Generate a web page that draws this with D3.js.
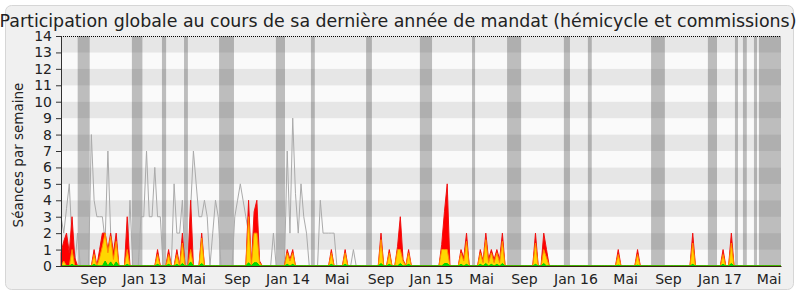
<!DOCTYPE html>
<html>
<head>
<meta charset="utf-8">
<script src="https://cdn.jsdelivr.net/npm/d3@7"></script>
<style>
  body { margin: 0; background: #fff; }
  text { font-family: "DejaVu Sans", sans-serif; }
</style>
</head>
<body>
<div id="chart"></div>
<script>
// weekly data, week 0 = mid June 2012, week 261 = mid June 2017
// [week, value]; weeks not listed are 0
const grayPts = [[0,3],[1,2],[2,3.5],[3,5],[4,1.5],[6,2],[11,8],[12,4],[13,3],[14,3],[15,3],[16,1.5],[17,7],[18,2],[19,0.6],
  [25,4],[29,3],[30,3],[31,7],[32,3],[33,3],[34,6],[35,3],[36,3],[41,5],[42,2],[43,2],[44,4],
  [47,3.5],[48,7],[49,5],[50,3],[51,3],[52,4],[53,3],[55,2],[56,4],[57,3],
  [63,3],[64,4],[65,5],[66,4],[67,3],[68,2],[77,2],[82,7],[83,2],[84,9],[85,4.4],[86,2],[87,5],[88,3],[89,2],
  [94,4],[95,2],[96,2],[97,2],[98,2],[99,2],[106,1]];

const redPts = [[0,0.8],[1,1.5],[2,2],[3,0.8],[4,3],[5,0.5],
  [12,1],[14,1],[15,2],[16,2],[17,1],[18,2],[19,0.8],[20,2],
  [24,3],[35,1],[39,1],[42,1],[44,2],[47,4],[51,2],
  [68,4],[70,3.3],[71,4],[72,0.3],
  [82,1],[83,0.4],[84,1],[98,1],[103,1],
  [116,2],[119,1],[122,1.2],[123,3],[124,0.4],[126,1],
  [138,1.3],[139,3.3],[140,5],
  [145,1],[146,0.5],[147,2],
  [152,1],[153,0.3],[154,2],[155,0.4],[156,1],[157,0.4],[158,1],[159,0.4],[160,2],
  [172,2],[175,2],[176,1],
  [202,1],[209,1],[229,2],[240,1],[243,2]];

const yellowPts = [[1,0.3],[4,1],[12,0.7],[14,0.5],[15,1.2],[16,2],[17,0.8],[18,1.8],[19,0.4],[20,1.5],
  [24,1],[35,0.7],[39,0.7],[42,0.7],[44,1.4],[47,1],[51,1.7],
  [68,3],[70,2],[71,2],[72,0.2],
  [82,0.8],[83,0.3],[84,0.8],[98,0.8],[103,0.8],
  [116,1.6],[119,0.8],[122,1],[123,1],[124,0.3],[126,0.8],
  [138,1],[139,1],[140,1],
  [145,0.8],[146,0.3],[147,1.5],
  [152,0.8],[153,0.2],[154,1.6],[155,0.2],[156,0.8],[157,0.2],[158,0.8],[159,0.2],[160,1.5],
  [172,1.4],[175,1],[176,0.5],
  [202,0.7],[209,0.7],[229,1.4],[240,0.7],[243,1.4]];

const greenPts = [[4,0.1],[12,0.1],[16,0.3],[18,0.25],[20,0.25],[24,0.1],[35,0.1],[39,0.1],[42,0.1],[44,0.15],[47,0.25],[51,0.15],
  [68,0.2],[70,0.2],[71,0.2],[82,0.1],[84,0.1],[98,0.1],[103,0.1],[116,0.15],[119,0.1],[123,0.15],[126,0.1],
  [139,0.15],[140,0.15],[145,0.1],[147,0.1],[152,0.1],[154,0.15],[156,0.1],[158,0.1],[160,0.15],
  [172,0.1],[175,0.15],[202,0.05],[209,0.05],[229,0.1],[240,0.1],[243,0.15]];

// vacation periods (week ranges)
const vacations = [[6.05,10.4],[25.7,29.5],[36.6,38.1],[44.6,46.0],[57.3,62.7],[77.9,81.2],[90.6,92.0],
  [110.6,112.7],[130.1,134.5],[149.0,150.1],[161.7,166.8],[182.3,184.5],[191.0,192.4],[213.9,218.9],
  [234.5,237.8],[244.3,245.4],[247.2,248.6],[251.2,252.3],[253.0,261]];

const tickWeeks = [11.6,30.1,47.9,63.8,82.1,99.9,115.8,134.1,152.3,167.8,186.5,204.5,220.0,238.7,256.5];
const tickLabels = ["Sep","Jan 13","Mai","Sep","Jan 14","Mai","Sep","Jan 15","Mai","Sep","Jan 16","Mai","Sep","Jan 17","Mai"];

const NWEEKS = 262;

function expand(pts) {
  let m = new Map(pts);
  return d3.range(NWEEKS).map(w => ({w: w, v: m.get(w) || 0}));
}

const W = 800, H = 300;
const svg = d3.select("#chart").append("svg")
  .attr("width", W).attr("height", H);

// panel
svg.append("rect")
  .attr("x", 5.5).attr("y", 5.5)
  .attr("width", 788).attr("height", 284)
  .attr("rx", 6)
  .attr("fill", "#f0f0f0")
  .attr("stroke", "#d6d6d6");

const x = d3.scaleLinear().domain([0, NWEEKS - 1]).range([61, 781]);
const y = d3.scaleLinear().domain([0, 14]).range([266, 36]);

// horizontal stripes
d3.range(14).forEach(k => {
  svg.append("rect")
    .attr("x", x(0)).attr("y", y(k + 1))
    .attr("width", x(NWEEKS - 1) - x(0))
    .attr("height", y(k) - y(k + 1))
    .attr("fill", k % 2 ? "#e6e6e6" : "#fafafa");
});

// vacation bands
svg.selectAll(".vac").data(vacations).enter().append("rect")
  .attr("x", d => x(d[0]))
  .attr("y", y(14))
  .attr("width", d => x(d[1]) - x(d[0]))
  .attr("height", y(0) - y(14))
  .attr("fill", "rgb(50,50,50)")
  .attr("fill-opacity", 0.3);

const line = d3.line().x(d => x(d.w)).y(d => y(d.v));
const area = d3.area().x(d => x(d.w)).y0(y(0)).y1(d => y(d.v));

svg.append("path")
  .attr("d", line(expand(grayPts)))
  .attr("fill", "none")
  .attr("stroke", "#aaaaaa")
  .attr("stroke-width", 1);

svg.append("path")
  .attr("d", area(expand(redPts)))
  .attr("fill", "#ff0000")
  .attr("stroke", "#f01010")
  .attr("stroke-width", 1);

svg.append("path")
  .attr("d", area(expand(yellowPts)))
  .attr("fill", "#ffd700")
  .attr("stroke", "#ff8c00")
  .attr("stroke-width", 1);

svg.append("path")
  .attr("d", area(expand(greenPts)))
  .attr("fill", "#00dd00")
  .attr("stroke", "#00cc00")
  .attr("stroke-width", 1);

// top dotted line
svg.append("line")
  .attr("x1", x(0)).attr("x2", x(NWEEKS - 1))
  .attr("y1", y(14) + 0.5).attr("y2", y(14) + 0.5)
  .attr("stroke", "#000")
  .attr("stroke-dasharray", "1,1");

// axes
let yAxis = svg.append("g")
  .attr("transform", "translate(" + x(0) + ",0)")
  .call(d3.axisLeft(y).tickValues(d3.range(0, 15)).tickSize(5).tickPadding(4));
yAxis.selectAll("text").attr("font-size", 14).attr("font-family", "DejaVu Sans").attr("fill", "#222");
yAxis.selectAll("line").attr("stroke", "#333");
yAxis.select(".domain").attr("stroke", "#333");

let xAxis = svg.append("g")
  .attr("transform", "translate(0," + y(0) + ")")
  .call(d3.axisBottom(x).tickValues(tickWeeks).tickFormat((d, i) => tickLabels[i]).tickSize(0).tickPadding(8));
xAxis.selectAll("text").attr("font-size", 14).attr("font-family", "DejaVu Sans").attr("fill", "#222");
xAxis.select(".domain").attr("stroke", "#3c1e14");

// title
svg.append("text")
  .attr("x", 398).attr("y", 27)
  .attr("text-anchor", "middle")
  .attr("font-size", 17.4)
  .attr("fill", "#222")
  .text("Participation globale au cours de sa dernière année de mandat (hémicycle et commissions)");

// y label
svg.append("text")
  .attr("transform", "translate(23,155) rotate(-90)")
  .attr("text-anchor", "middle")
  .attr("font-size", 13.5)
  .attr("fill", "#222")
  .text("Séances par semaine");
</script>
</body>
</html>
